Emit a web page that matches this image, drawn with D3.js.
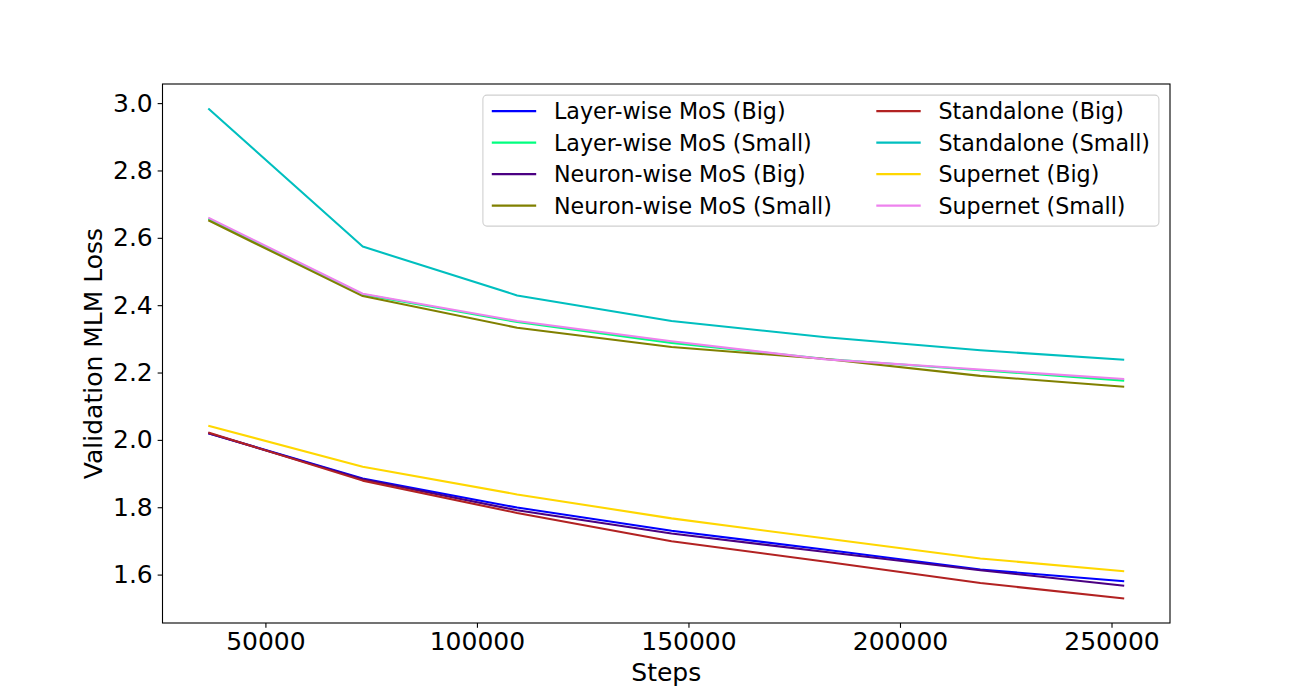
<!DOCTYPE html>
<html>
<head>
<meta charset="utf-8">
<script src="https://cdn.jsdelivr.net/npm/d3@7"></script>
<style>
	body { margin: 0; background: #fff; }
	text { font-family: "DejaVu Sans", sans-serif; fill: #000; }
</style>
</head>
<body>
<svg id="chart" width="1300" height="700"></svg>
<script>
// training steps at which validation loss was measured
var steps = [36500, 73000, 109500, 146000, 182500, 219000, 253000];

var seriesNames = [
	'Layer-wise MoS (Big)', 'Layer-wise MoS (Small)',
	'Neuron-wise MoS (Big)', 'Neuron-wise MoS (Small)',
	'Standalone (Big)', 'Standalone (Small)',
	'Supernet (Big)', 'Supernet (Small)'
];
var seriesColors = ['#0000ff', '#00ff7f', '#4b0082', '#808000', '#b22222', '#00bfbf', '#ffd700', '#ee82ee'];

var layerBig      = [2.020, 1.885, 1.799, 1.730, 1.674, 1.615, 1.580];
var layerSmall    = [2.657, 2.432, 2.350, 2.288, 2.240, 2.207, 2.176];
var neuronBig     = [2.020, 1.883, 1.791, 1.722, 1.667, 1.613, 1.567];
var neuronSmall   = [2.652, 2.427, 2.333, 2.276, 2.240, 2.190, 2.158];
var standBig      = [2.022, 1.879, 1.783, 1.699, 1.638, 1.575, 1.529];
var standSmall    = [2.984, 2.574, 2.429, 2.353, 2.305, 2.266, 2.238];
var superBig      = [2.042, 1.920, 1.838, 1.767, 1.707, 1.648, 1.610];
var superSmall    = [2.660, 2.434, 2.353, 2.293, 2.239, 2.209, 2.181];

var seriesValues = [layerBig, layerSmall, neuronBig, neuronSmall, standBig, standSmall, superBig, superSmall];

var xTicks = [50000, 100000, 150000, 200000, 250000];
var yTicks = [1.6, 1.8, 2.0, 2.2, 2.4, 2.6, 2.8, 3.0];

// axes box, same fractions as a default matplotlib figure
var plotLeft = 162.5, plotRight = 1170, plotTop = 84, plotBottom = 623;
var tickLen = 4.86, tickPad = 4.86;

var svg = d3.select('#chart');

// 5% margins around the data like matplotlib autoscale
var xMin = d3.min(steps), xMax = d3.max(steps);
var allY = d3.merge(seriesValues);
var yMin = d3.min(allY), yMax = d3.max(allY);
var xm = (xMax - xMin) * 0.05, ym = (yMax - yMin) * 0.05;

var x = d3.scaleLinear().domain([xMin - xm, xMax + xm]).range([plotLeft, plotRight]);
var y = d3.scaleLinear().domain([yMin - ym, yMax + ym]).range([plotBottom, plotTop]);

// lines
var line = d3.line()
	.x(function(d, i) { return x(steps[i]); })
	.y(function(d) { return y(d); });

svg.append('g').selectAll('path')
	.data(seriesValues)
	.enter()
	.append('path')
	.attr('d', line)
	.attr('fill', 'none')
	.attr('stroke', function(d, i) { return seriesColors[i]; })
	.attr('stroke-width', 2.08)
	.attr('stroke-linejoin', 'round');

// axes
var xAxis = svg.append('g')
	.attr('transform', 'translate(0,' + plotBottom + ')')
	.call(d3.axisBottom(x).tickValues(xTicks).tickFormat(d3.format('d'))
		.tickSize(tickLen).tickPadding(tickPad).tickSizeOuter(0));

var yAxis = svg.append('g')
	.attr('transform', 'translate(' + plotLeft + ',0)')
	.call(d3.axisLeft(y).tickValues(yTicks).tickFormat(d3.format('.1f'))
		.tickSize(tickLen).tickPadding(tickPad).tickSizeOuter(0));

[xAxis, yAxis].forEach(function(ax) {
	ax.select('.domain').remove();
	ax.selectAll('line').attr('stroke', '#000').attr('stroke-width', 1.1);
	ax.selectAll('text').attr('font-size', '25px').attr('font-family', '"DejaVu Sans", sans-serif').attr('fill', '#000');
});

// frame
svg.append('rect')
	.attr('x', plotLeft).attr('y', plotTop)
	.attr('width', plotRight - plotLeft).attr('height', plotBottom - plotTop)
	.attr('fill', 'none').attr('stroke', '#000').attr('stroke-width', 1.1);

// axis titles
svg.append('text')
	.attr('x', (plotLeft + plotRight) / 2).attr('y', 681)
	.attr('text-anchor', 'middle')
	.attr('font-size', '25px')
	.text('Steps');

svg.append('text')
	.attr('transform', 'translate(102,' + ((plotTop + plotBottom) / 2) + ') rotate(-90)')
	.attr('text-anchor', 'middle')
	.attr('font-size', '25px')
	.text('Validation MLM Loss');

// legend, two columns of four rows, upper right
var fs = 22.2;
var pad = 0.4 * fs, handleLen = 2 * fs, handleGap = 0.8 * fs, colGap = 2 * fs, rowH = 31.5;
var legend = svg.append('g');
var box = legend.append('rect');

var texts = legend.selectAll('text.lbl')
	.data(seriesNames)
	.enter()
	.append('text')
	.attr('class', 'lbl')
	.attr('font-size', fs + 'px')
	.text(function(d) { return d; });

var widths = [];
texts.each(function() { widths.push(this.getComputedTextLength()); });
var col1W = d3.max(widths.slice(0, 4)), col2W = d3.max(widths.slice(4));
var legW = pad + handleLen + handleGap + col1W + colGap + handleLen + handleGap + col2W + pad;
var legH = 131;
var legRight = plotRight - 0.5 * fs, legTop = plotTop + 0.5 * fs;
var legLeft = legRight - legW;

box.attr('x', legLeft).attr('y', legTop)
	.attr('width', legW).attr('height', legH)
	.attr('rx', 4).attr('ry', 4)
	.attr('fill', 'rgba(255,255,255,0.8)')
	.attr('stroke', '#d0d0d0').attr('stroke-width', 1.1);

function colX(i) {
	return i < 4 ? legLeft + pad : legLeft + pad + handleLen + handleGap + col1W + colGap;
}
function rowY(i) { return legTop + 16 + (i % 4) * rowH; }

legend.selectAll('line.h')
	.data(seriesNames)
	.enter()
	.append('line')
	.attr('x1', function(d, i) { return colX(i); })
	.attr('x2', function(d, i) { return colX(i) + handleLen; })
	.attr('y1', function(d, i) { return rowY(i); })
	.attr('y2', function(d, i) { return rowY(i); })
	.attr('stroke', function(d, i) { return seriesColors[i]; })
	.attr('stroke-width', 2.08);

texts.attr('x', function(d, i) { return colX(i) + handleLen + handleGap; })
	.attr('y', function(d, i) { return rowY(i); })
	.attr('dy', '0.36em');
</script>
</body>
</html>
